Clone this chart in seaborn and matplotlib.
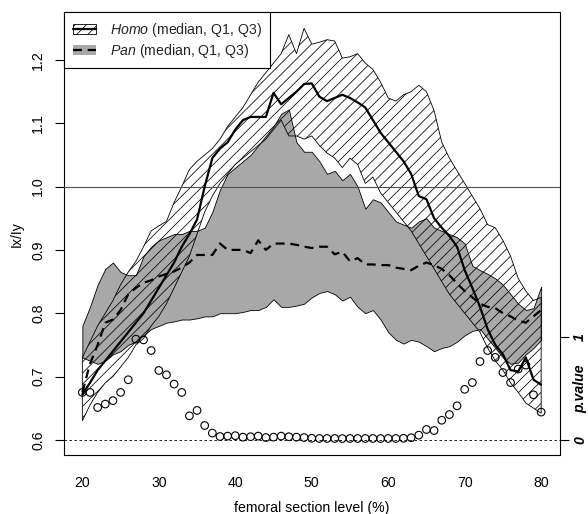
import matplotlib
matplotlib.use("Agg")
import matplotlib.pyplot as plt
import matplotlib.transforms as mtransforms
from matplotlib.patches import Patch
from matplotlib.lines import Line2D
import seaborn as sns
import numpy as np

# ---------------- data ----------------
level = list(range(20, 81))

homo_med = [0.672, 0.69, 0.71, 0.725, 0.74, 0.755, 0.77, 0.785, 0.80, 0.82,
            0.84, 0.86, 0.88, 0.905, 0.925, 0.948, 1.00, 1.045, 1.06, 1.07,
            1.09, 1.105, 1.11, 1.11, 1.11, 1.148, 1.13, 1.14, 1.15, 1.162,
            1.163, 1.142, 1.135, 1.14, 1.145, 1.14, 1.133, 1.125, 1.105, 1.085,
            1.07, 1.055, 1.04, 1.02, 0.985, 0.98, 0.95, 0.935, 0.922, 0.905,
            0.868, 0.84, 0.81, 0.775, 0.75, 0.735, 0.71, 0.708, 0.73, 0.695,
            0.687]
homo_q3 = [0.73, 0.755, 0.78, 0.80, 0.82, 0.845, 0.865, 0.882, 0.905, 0.93,
           0.938, 0.945, 0.975, 1.00, 1.027, 1.04, 1.05, 1.06, 1.075, 1.095,
           1.11, 1.125, 1.145, 1.165, 1.18, 1.195, 1.21, 1.24, 1.21, 1.25,
           1.225, 1.228, 1.232, 1.23, 1.203, 1.205, 1.21, 1.195, 1.185, 1.165,
           1.14, 1.135, 1.145, 1.15, 1.16, 1.15, 1.12, 1.07, 1.045, 1.025,
           1.005, 0.985, 0.965, 0.94, 0.935, 0.915, 0.89, 0.855, 0.835, 0.82,
           0.825]
homo_q1 = [0.63, 0.655, 0.675, 0.69, 0.70, 0.715, 0.73, 0.75, 0.76, 0.78,
           0.795, 0.815, 0.84, 0.865, 0.89, 0.925, 0.96, 0.985, 1.005, 1.02,
           1.035, 1.045, 1.055, 1.065, 1.075, 1.09, 1.105, 1.08, 1.08, 1.075,
           1.08, 1.065, 1.053, 1.045, 1.03, 1.045, 1.035, 1.005, 1.015, 0.99,
           0.975, 0.96, 0.945, 0.93, 0.91, 0.89, 0.87, 0.85, 0.83, 0.815,
           0.80, 0.785, 0.77, 0.745, 0.725, 0.71, 0.69, 0.675, 0.658, 0.65,
           0.642]
pan_med = [0.675, 0.72, 0.75, 0.785, 0.79, 0.805, 0.83, 0.84, 0.848, 0.852,
           0.858, 0.862, 0.866, 0.872, 0.88, 0.892, 0.892, 0.892, 0.91, 0.90,
           0.90, 0.90, 0.895, 0.915, 0.90, 0.91, 0.91, 0.91, 0.908, 0.905,
           0.903, 0.905, 0.905, 0.893, 0.897, 0.882, 0.887, 0.877, 0.877, 0.876,
           0.876, 0.872, 0.87, 0.868, 0.875, 0.88, 0.876, 0.87, 0.86, 0.847,
           0.835, 0.825, 0.815, 0.81, 0.808, 0.80, 0.795, 0.788, 0.785, 0.795,
           0.805]
pan_q3 = [0.78, 0.81, 0.845, 0.87, 0.88, 0.865, 0.86, 0.86, 0.89, 0.905,
          0.915, 0.92, 0.925, 0.925, 0.93, 0.93, 0.935, 0.96, 0.995, 1.02,
          1.03, 1.04, 1.05, 1.065, 1.08, 1.095, 1.115, 1.122, 1.07, 1.055,
          1.055, 1.04, 1.02, 1.025, 1.01, 1.02, 1.0, 0.965, 0.98, 0.975,
          0.96, 0.945, 0.94, 0.935, 0.945, 0.95, 0.935, 0.93, 0.925, 0.92,
          0.91, 0.875, 0.868, 0.862, 0.855, 0.845, 0.83, 0.815, 0.805, 0.808,
          0.842]
pan_q1 = [0.73, 0.725, 0.72, 0.725, 0.735, 0.74, 0.75, 0.755, 0.765, 0.775,
          0.78, 0.785, 0.787, 0.79, 0.79, 0.792, 0.795, 0.795, 0.80, 0.80,
          0.80, 0.802, 0.805, 0.805, 0.81, 0.822, 0.81, 0.81, 0.812, 0.815,
          0.825, 0.832, 0.835, 0.83, 0.82, 0.826, 0.81, 0.80, 0.805, 0.79,
          0.77, 0.758, 0.752, 0.758, 0.755, 0.748, 0.74, 0.745, 0.748, 0.755,
          0.765, 0.772, 0.775, 0.76, 0.745, 0.73, 0.72, 0.722, 0.735, 0.745,
          0.758]
p_value = [0.46, 0.46, 0.314, 0.347, 0.38, 0.46, 0.583, 0.977, 0.97, 0.867,
           0.673, 0.631, 0.541, 0.46, 0.233, 0.285, 0.139, 0.065, 0.032, 0.036,
           0.04, 0.026, 0.03, 0.036, 0.022, 0.026, 0.036, 0.03, 0.026, 0.022,
           0.015, 0.013, 0.013, 0.013, 0.012, 0.013, 0.013, 0.013, 0.013, 0.012,
           0.013, 0.013, 0.015, 0.02, 0.045, 0.10, 0.09, 0.19, 0.245, 0.33,
           0.49, 0.556, 0.76, 0.867, 0.80, 0.653, 0.556, 0.687, 0.725, 0.437,
           0.269]

x_ticks = [20, 30, 40, 50, 60, 70, 80]
y_ticks = [0.6, 0.7, 0.8, 0.9, 1.0, 1.1, 1.2]
y_ticklabels = ["0.6", "0.7", "0.8", "0.9", "1.0", "1.1", "1.2"]
p_ticks = [0, 1]

# ---------------- style ----------------
sns.set_theme(style="white")
plt.rcParams["font.family"] = ["Liberation Sans", "DejaVu Sans"]
plt.rcParams["mathtext.fontset"] = "custom"
plt.rcParams["mathtext.rm"] = "Liberation Sans"
plt.rcParams["mathtext.it"] = "Liberation Sans:italic"
plt.rcParams["hatch.linewidth"] = 0.55
plt.rcParams["axes.linewidth"] = 0.8

FS = 10.2
GREY = "#a8a8a8"
XLIM = (17.6, 82.4)
YLIM = (0.576, 1.2753)
P_OFFSET, P_SCALE = 0.6, 0.1627   # p = 0 -> 0.6, p = 1 -> 0.7627

fig = plt.figure(figsize=(5.88, 5.14), dpi=100)
ax = fig.add_axes([64 / 588, 59 / 514, (559.5 - 64) / 588, (455 - 12.3) / 514])
ax.set_facecolor("white")

# Pan band (grey) then Homo band (hatched) on top
ax.fill_between(level, pan_q1, pan_q3, facecolor=GREY, edgecolor="black",
                linewidth=0.6, zorder=1)
ax.fill_between(level, homo_q1, homo_q3, facecolor="none", edgecolor="black",
                hatch="///", linewidth=0.6, zorder=2)

ax.axhline(1.0, color="#505050", linewidth=0.8, zorder=3)
ax.axhline(0.6, color="black", linewidth=0.6, linestyle=(0, (3, 3)), zorder=3)

sns.lineplot(x=level, y=homo_med, ax=ax, color="black", linewidth=1.6,
             zorder=4)
sns.lineplot(x=level, y=pan_med, ax=ax, color="black", linewidth=1.6,
             linestyle=(0, (4, 2.6)), zorder=4)

ax.set_xlim(*XLIM)
ax.set_ylim(*YLIM)
ax.set_xticks(x_ticks)
ax.set_xticklabels([str(v) for v in x_ticks], fontsize=FS)
ax.set_yticks(y_ticks)
ax.set_yticklabels(y_ticklabels, fontsize=FS, rotation=90)
ax.tick_params(axis="both", direction="out", length=6.5, width=0.8,
               color="black", labelcolor="black")
ax.tick_params(axis="x", pad=13.6)
ax.tick_params(axis="y", pad=12.2, right=False)
plt.setp(ax.get_xticklabels(), va="center")
plt.setp(ax.get_yticklabels(), va="center", ha="center")
for s in ax.spines.values():
    s.set_visible(True)
    s.set_color("black")
    s.set_linewidth(0.8)

ax.set_xlabel("femoral section level (%)", fontsize=FS, color="black")
ax.set_ylabel("Ix/Iy", fontsize=FS, color="black")
ax.xaxis.set_label_coords(0.5, (455 - 508) / 442.7)
ax.xaxis.label.set_va("center")
ax.yaxis.set_label_coords((17 - 64) / 495.5, 0.5)
ax.yaxis.label.set_va("center")

# p-value axis on the right
ax2 = ax.twinx()
ax2.set_ylim((YLIM[0] - P_OFFSET) / P_SCALE, (YLIM[1] - P_OFFSET) / P_SCALE)
sns.scatterplot(x=level, y=p_value, ax=ax2, marker="o", s=30,
                facecolor="none", edgecolor="black", linewidth=0.8, zorder=5)
ax2.set_yticks(p_ticks)
ax2.set_yticklabels([str(v) for v in p_ticks], fontsize=FS, rotation=90,
                    fontweight="bold", fontstyle="italic")
ax2.tick_params(axis="y", direction="out", length=6.5, width=0.8, pad=8.3,
                color="black", labelcolor="black")
plt.setp(ax2.get_yticklabels(), va="center", ha="center")
ax2.set_ylabel("")
for s in ax2.spines.values():
    s.set_visible(False)
trans = mtransforms.blended_transform_factory(ax2.transAxes, ax2.transData)
ax2.text((580 - 64) / 495.5, 0.5, "p.value", transform=trans, rotation=90,
         ha="center", va="center", fontsize=FS, fontweight="bold",
         fontstyle="italic", color="black")

# legend
h_homo = (Patch(facecolor="white", edgecolor="black", hatch="///", linewidth=0.6),
          Line2D([], [], color="black", linewidth=1.6))
h_pan = (Patch(facecolor=GREY, edgecolor="none"),
         Line2D([], [], color="black", linewidth=1.6, linestyle=(0, (4, 2.6))))
leg = ax.legend([h_homo, h_pan],
                [r"$\it{Homo}$ (median, Q1, Q3)", r"$\it{Pan}$ (median, Q1, Q3)"],
                loc="upper left", bbox_to_anchor=(0, 1), borderaxespad=0,
                fontsize=FS, frameon=True, fancybox=False, framealpha=1,
                edgecolor="black", handlelength=1.65, handletextpad=1.0,
                borderpad=0.6, labelspacing=0.22)
leg.get_frame().set_linewidth(0.8)
leg.set_zorder(10)

fig.savefig("out.png", dpi=100, facecolor="white")
